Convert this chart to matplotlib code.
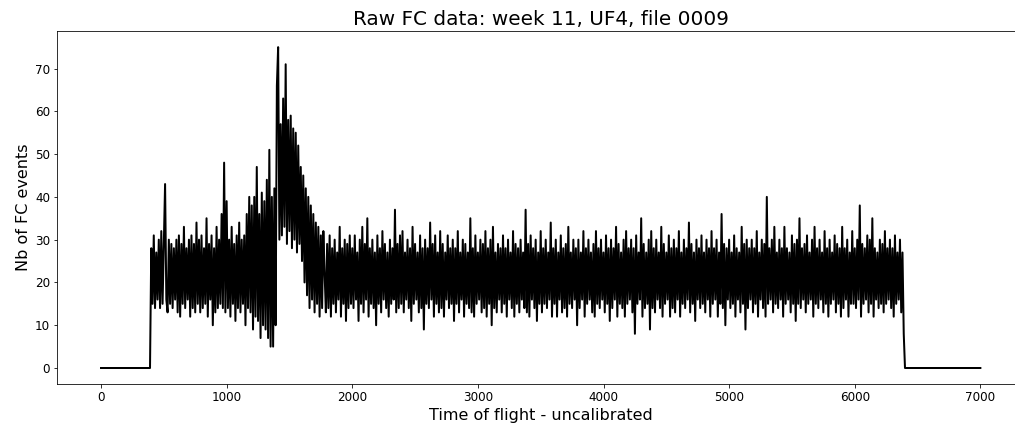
import numpy as np
import matplotlib.pyplot as plt

# -----------------------------
# DATA (one bin every 10 TOF units)
# -----------------------------
bin_width = 10

lead_zeros = [0] * 40          # 0 .. 390 : nothing recorded

# 400 .. 1990 : rise, prompt peak and decay
signal_start = [
    28, 15, 31, 14, 27, 16, 30, 14, 32, 15, 29, 43, 16, 13, 30, 15, 29, 14, 28, 16,
    30, 13, 31, 12, 29, 15, 33, 14, 28, 16, 30, 12, 31, 14, 29, 13, 34, 15, 30, 13,
    31, 14, 28, 15, 35, 12, 29, 16, 31, 10, 28, 13, 33, 14, 30, 15, 36, 14, 48, 13,
    39, 14, 30, 12, 33, 15, 29, 11, 31, 14, 34, 13, 30, 15, 31, 10, 36, 14, 40, 13,
    38, 9, 40, 12, 47, 11, 36, 7, 41, 10, 39, 9, 44, 7, 51, 5, 40, 5, 42, 10,
    66, 75, 30, 57, 31, 63, 33, 71, 29, 58, 32, 59, 28, 56, 30, 55, 27, 52, 29, 47,
    25, 45, 20, 42, 17, 40, 14, 38, 16, 36, 13, 34, 15, 33, 12, 31, 14, 32, 22, 13,
    29, 14, 31, 12, 28, 15, 30, 13, 27, 16, 33, 12, 28, 15, 30, 11, 29, 14, 31, 15,
]

# 2000 .. 6390 : flat background
signal_flat = [
    28, 14, 31, 16, 27, 11, 30, 15, 33, 13, 29, 16, 35, 12, 28, 15, 30, 14, 27, 10,
    31, 15, 28, 13, 32, 16, 29, 14, 27, 12, 30, 15, 28, 16, 37, 13, 29, 14, 31, 15,
    32, 13, 27, 16, 30, 14, 28, 11, 33, 15, 29, 16, 27, 13, 31, 14, 28, 9, 30, 15,
    28, 14, 34, 16, 29, 12, 31, 15, 27, 13, 32, 14, 29, 12, 27, 16, 31, 14, 28, 15,
    30, 11, 28, 15, 32, 13, 27, 16, 30, 12, 29, 15, 27, 14, 35, 13, 28, 12, 31, 15,
    27, 16, 30, 13, 29, 14, 32, 12, 28, 15, 30, 10, 33, 14, 27, 13, 29, 16, 28, 13,
    31, 15, 28, 12, 30, 16, 27, 14, 32, 12, 29, 15, 28, 13, 30, 16, 27, 14, 37, 13,
    29, 12, 31, 16, 28, 14, 30, 11, 27, 15, 32, 13, 28, 15, 30, 14, 27, 16, 34, 12,
    28, 15, 30, 12, 27, 16, 31, 13, 28, 14, 29, 12, 33, 15, 27, 14, 30, 16, 28, 10,
    30, 14, 27, 16, 32, 12, 28, 15, 30, 16, 27, 13, 29, 12, 32, 15, 28, 14, 30, 16,
    27, 13, 31, 15, 28, 11, 30, 14, 28, 16, 33, 12, 29, 15, 27, 14, 30, 12, 32, 15,
    28, 16, 30, 13, 28, 8, 31, 15, 27, 16, 35, 12, 29, 14, 27, 15, 30, 9, 32, 14,
    28, 13, 30, 16, 27, 14, 33, 12, 29, 15, 27, 16, 31, 12, 28, 14, 30, 13, 28, 16,
    32, 12, 27, 15, 30, 14, 28, 16, 34, 13, 29, 15, 27, 11, 30, 16, 28, 14, 31, 15,
    27, 13, 30, 16, 28, 12, 32, 15, 28, 16, 30, 12, 27, 15, 36, 14, 29, 10, 28, 16,
    30, 14, 27, 15, 31, 12, 28, 16, 27, 13, 33, 15, 29, 9, 30, 14, 28, 16, 30, 13,
    28, 15, 32, 12, 27, 16, 30, 14, 29, 12, 40, 15, 28, 16, 30, 13, 33, 15, 27, 14,
    30, 16, 28, 12, 33, 15, 28, 16, 27, 13, 31, 15, 29, 11, 30, 15, 35, 14, 28, 16,
    29, 13, 31, 15, 27, 16, 30, 12, 33, 15, 28, 14, 30, 16, 27, 13, 32, 15, 28, 12,
    30, 15, 27, 16, 31, 13, 29, 15, 28, 12, 33, 14, 28, 16, 30, 12, 27, 15, 32, 15,
    28, 14, 30, 16, 38, 12, 29, 15, 28, 16, 31, 13, 30, 15, 35, 12, 28, 16, 27, 14,
    30, 15, 29, 13, 32, 15, 28, 16, 30, 14, 28, 12, 31, 15, 27, 16, 30, 13, 27, 8,
]

tail_zeros = [0] * 61          # 6400 .. 7000 : nothing recorded

counts = lead_zeros + signal_start + signal_flat + tail_zeros
tof = np.arange(len(counts)) * bin_width

# -----------------------------
# PLOT
# -----------------------------
fig = plt.figure(figsize=(1015 / 72, 432 / 72), dpi=72)
ax = fig.add_axes([0.0562, 0.111, 0.953, 0.817])

ax.plot(tof, counts, color='black', linewidth=2)

ax.set_title("Raw FC data: week 11, UF4, file 0009", fontsize=20)
ax.set_xlabel("Time of flight - uncalibrated", fontsize=16)
ax.set_ylabel("Nb of FC events", fontsize=16)
ax.tick_params(labelsize=12)

fig.savefig("out.png", dpi=72)
